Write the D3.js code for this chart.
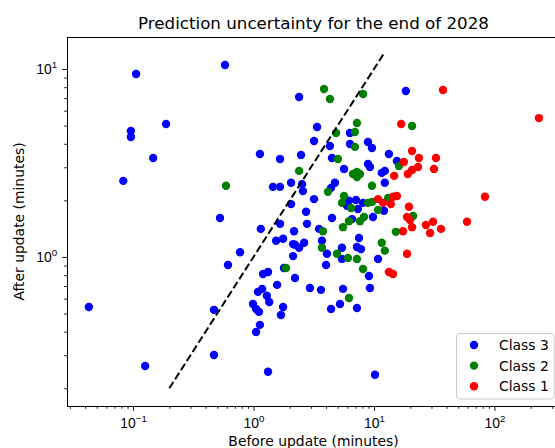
<!DOCTYPE html>
<html>
<head>
<meta charset="utf-8">
<script src="https://cdn.jsdelivr.net/npm/d3@7"></script>
<style>
  body { margin: 0; background: #fff; }
  svg { display: block; font-family: "DejaVu Sans", sans-serif; }
</style>
</head>
<body>
<div id="chart"></div>
<script>
// [before update, after update] in minutes
const class3 = [
  [0.106, 9.41], [0.58, 10.5], [0.096, 4.68], [0.096, 4.35], [0.188, 5.10], [0.147, 3.36],
  [0.083, 2.54], [0.527, 1.61], [0.614, 0.906], [0.043, 0.542], [0.47, 0.523], [0.126, 0.263],
  [0.47, 0.301], [2.39, 7.10], [3.37, 4.91], [6.32, 4.57], [3.18, 4.14], [4.31, 3.89],
  [6.32, 3.99], [8.92, 4.09], [9.62, 3.80], [1.13, 3.53], [1.66, 3.32], [2.48, 3.49],
  [4.48, 3.36], [13.3, 3.53], [15.5, 3.24], [18.4, 7.64], [5.64, 2.94], [8.92, 3.12],
  [9.26, 3.01], [11.6, 2.80], [12.3, 2.87], [1.45, 2.36], [1.66, 2.36], [2.05, 2.48],
  [2.53, 2.44], [2.57, 2.24], [4.74, 2.48], [4.40, 2.33], [12.3, 2.48], [2.05, 1.91],
  [3.18, 2.03], [6.20, 1.99], [5.97, 1.87], [7.09, 2.01], [7.36, 1.80], [8.11, 1.94],
  [12.1, 1.76], [2.73, 1.74], [1.66, 1.50], [2.78, 1.50], [4.48, 1.61], [6.57, 1.59],
  [9.81, 1.63], [1.15, 1.41], [2.17, 1.37], [3.50, 1.41], [1.54, 1.22], [1.76, 1.25],
  [2.13, 1.17], [2.21, 1.16], [2.39, 1.12], [2.63, 1.19], [3.70, 1.22], [7.51, 1.26],
  [0.773, 1.06], [2.13, 1.01], [4.07, 1.04], [5.42, 1.12], [7.22, 1.13], [7.80, 1.10],
  [5.42, 0.976], [10.8, 0.976], [4.00, 0.906], [1.79, 0.874], [1.20, 0.812], [1.32, 0.832],
  [9.09, 0.792], [2.21, 0.773], [1.57, 0.710], [2.94, 0.684], [3.63, 0.668], [5.53, 0.676],
  [9.26, 0.684], [1.18, 0.676], [1.09, 0.652], [1.29, 0.621], [1.35, 0.576], [0.99, 0.562],
  [1.05, 0.529], [1.11, 0.510], [1.76, 0.542], [1.69, 0.491], [4.40, 0.529], [5.22, 0.562],
  [7.22, 0.535], [1.13, 0.435], [1.05, 0.399], [1.32, 0.245], [10.2, 0.236]
]
const class2 = [
  [3.85, 7.83], [4.31, 6.92], [8.11, 7.36], [7.22, 5.16], [6.95, 4.62], [4.84, 4.57],
  [6.95, 3.85], [5.02, 3.32], [20.7, 4.97], [16.1, 3.05], [2.39, 2.87], [6.70, 2.76],
  [7.22, 2.83], [7.65, 2.76], [7.22, 2.66], [0.591, 2.39], [4.15, 2.22], [9.62, 2.39],
  [5.64, 2.11], [5.42, 1.94], [6.44, 1.82], [8.92, 1.94], [9.62, 1.96], [13.1, 2.06],
  [10.8, 1.78], [6.20, 1.55], [7.65, 1.55], [8.26, 1.63], [21.1, 1.65], [5.53, 1.44],
  [3.77, 1.37], [15.2, 1.36], [3.70, 1.12], [11.6, 1.19], [12.3, 1.08], [4.93, 1.04],
  [6.08, 0.988], [7.22, 0.976], [1.86, 0.874], [8.11, 0.863], [6.20, 0.605]
]
const class1 = [
  [37.4, 7.73], [234, 5.48], [16.8, 5.10], [20.7, 3.66], [23.6, 3.36], [32.7, 3.36],
  [17.7, 3.20], [23.2, 3.01], [20.7, 2.90], [19.1, 2.76], [31.5, 2.94], [14.7, 2.70],
  [83.4, 2.09], [10.8, 2.03], [11.9, 1.94], [13.8, 1.91], [14.4, 2.09], [15.5, 2.11],
  [19.5, 1.85], [18.8, 1.63], [19.9, 1.57], [20.7, 1.44], [27.0, 1.48], [30.9, 1.54],
  [36.0, 1.41], [29.2, 1.34], [59.2, 1.54], [17.4, 1.37], [18.8, 1.04], [13.3, 0.832],
  [14.4, 0.812]
]
const classNames = ["Class 3", "Class 2", "Class 1"]
const diagonal = [0.2, 12]
const xMajorTicks = [0.1, 1, 10, 100]
const yMajorTicks = [1, 10]

const width = 555
const height = 448
const plotLeft = 67, plotRight = 560, plotTop = 37, plotBottom = 406

const svg = d3.select("#chart").append("svg")
  .attr("width", width)
  .attr("height", height)

const x = d3.scaleLog().domain([0.0283, 350]).range([plotLeft, plotRight])
const y = d3.scaleLog().domain([0.161, 14.8]).range([plotBottom, plotTop])
const color = d3.scaleOrdinal().domain(classNames).range(["#0000ff", "#008000", "#ff0000"])

const supText = (sel) => {
  sel.each(function (d) {
    const e = Math.round(Math.log10(d))
    const t = d3.select(this).text("")
    t.append("tspan").text("10")
    t.append("tspan").attr("dy", "-6").attr("font-size", 9.7)
      .text(e < 0 ? "\u2212" + (-e) : e)
  })
}

// minor ticks
const isMajor = (v) => Math.abs(Math.log10(v) - Math.round(Math.log10(v))) < 1e-6
svg.append("g").attr("transform", `translate(0,${plotBottom})`)
  .call(d3.axisBottom(x).tickValues(x.ticks().filter((v) => !isMajor(v))).tickSize(2.8).tickFormat(""))
  .call((g) => g.select(".domain").remove())
svg.append("g").attr("transform", `translate(${plotLeft},0)`)
  .call(d3.axisLeft(y).tickValues(y.ticks().filter((v) => !isMajor(v))).tickSize(2.8).tickFormat(""))
  .call((g) => g.select(".domain").remove())

// major ticks
const xAxis = svg.append("g").attr("transform", `translate(0,${plotBottom})`)
  .call(d3.axisBottom(x).tickValues(xMajorTicks).tickSize(4.9).tickPadding(4.9))
xAxis.select(".domain").remove()
xAxis.selectAll("text").attr("font-size", 13.9).attr("fill", "#000")
  .attr("dy", null).attr("y", 22).call(supText)

const yAxis = svg.append("g").attr("transform", `translate(${plotLeft},0)`)
  .call(d3.axisLeft(y).tickValues(yMajorTicks).tickSize(4.9).tickPadding(4.9))
yAxis.select(".domain").remove()
yAxis.selectAll("text").attr("font-size", 13.9).attr("fill", "#000")
  .attr("dy", null).attr("y", 5).attr("x", -9.8).call(supText)

svg.selectAll(".tick line").attr("stroke", "#000").attr("stroke-width", 0.9)

// frame
svg.append("rect")
  .attr("x", plotLeft + 0.5).attr("y", plotTop + 0.5)
  .attr("width", plotRight - plotLeft).attr("height", plotBottom - plotTop)
  .attr("fill", "none").attr("stroke", "#000").attr("stroke-width", 1)

// points
const series = [class3, class2, class1]
series.forEach((pts, i) => {
  svg.append("g").selectAll("circle").data(pts).join("circle")
    .attr("cx", (d) => x(d[0]))
    .attr("cy", (d) => y(d[1]))
    .attr("r", 4.2)
    .attr("fill", color(classNames[i]))
})

// diagonal
svg.append("line")
  .attr("x1", x(diagonal[0])).attr("y1", y(diagonal[0]))
  .attr("x2", x(diagonal[1])).attr("y2", y(diagonal[1]))
  .attr("stroke", "#000").attr("stroke-width", 2)
  .attr("stroke-dasharray", "7.5,3.3")

// title and axis labels
svg.append("text").attr("x", (plotLeft + plotRight) / 2).attr("y", 28.5)
  .attr("text-anchor", "middle").attr("font-size", 16.7).text("Prediction uncertainty for the end of 2028")
svg.append("text").attr("x", (plotLeft + plotRight) / 2).attr("y", 446)
  .attr("text-anchor", "middle").attr("font-size", 13.9).text("Before update (minutes)")
svg.append("text").attr("transform", `translate(24,${(plotTop + plotBottom) / 2}) rotate(-90)`)
  .attr("text-anchor", "middle").attr("font-size", 13.9).text("After update (minutes)")

// legend
const legend = svg.append("g")
legend.append("rect")
  .attr("x", 456.5).attr("y", 333.5).attr("width", 97.5).attr("height", 65.5)
  .attr("rx", 3).attr("fill", "#fff").attr("fill-opacity", 0.8)
  .attr("stroke", "#cccccc").attr("stroke-width", 1)
const items = legend.selectAll("g.item").data(classNames).join("g")
  .attr("class", "item")
  .attr("transform", (d, i) => `translate(474,${345 + i * 20.6})`)
items.append("circle").attr("r", 4.2).attr("fill", (d) => color(d))
items.append("text").attr("x", 25).attr("y", 5).attr("font-size", 13.9).text((d) => d)
</script>
</body>
</html>
